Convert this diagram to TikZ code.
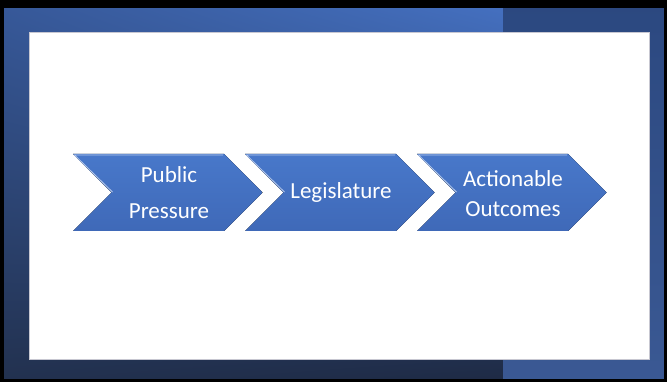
\documentclass[tikz,border=0pt]{standalone}
\usepackage{fontspec}
\setmainfont{Carlito}
\usetikzlibrary{shadings}
\definecolor{chevblue}{HTML}{4472C4}
\definecolor{chevtop}{HTML}{4878CA}
\definecolor{chevbot}{HTML}{3F69B8}
\definecolor{bevel}{HTML}{B4C8EC}
\definecolor{panelblue}{HTML}{30508E}
\definecolor{frameul}{RGB}{55,89,154}
\definecolor{frameur}{RGB}{69,113,194}
\definecolor{framell}{RGB}{34,49,79}
\definecolor{framelr}{RGB}{30,42,68}
\tikzset{
  chev/.style={top color=chevtop,bottom color=chevbot,draw=none},
  chevtext/.style={text=white,align=center,font=\fontsize{23}{30}\selectfont,inner sep=0pt}
}
\begin{document}
\begin{tikzpicture}[x=1pt,y=-1pt]
\useasboundingbox (0,0) rectangle (667,382);
% slide background
\shade[upper left=frameul,upper right=frameur,lower left=framell,lower right=framelr]
  (0,0) rectangle (503,382);
\shade[top color=panelblue!90!black,bottom color=panelblue!95!white] (503,0) rectangle (667,382);
\draw[black,line width=4pt] (2,4) rectangle (665.5,380.5);
\fill[black] (0,0) rectangle (667,8);
% white slide area
\fill[white] (29,32) rectangle (649,359);
\draw[blue!10!gray!40,line width=0.6pt] (29,32) rectangle (649,359);

% chevrons
\foreach \x in {73,245,417}{
  \fill[chev] (\x,154) -- ++(151,0) -- ++(38.5,38.5) -- ++(-38.5,38.5) -- ++(-151,0) -- ++(38.5,-38.5) -- cycle;
  \draw[bevel,line width=0.8pt] (\x+39.5,192) -- (\x+1.5,155) -- (\x+150,155);
}

\node[chevtext] (pub) at (169,193) {Public\\[6pt]Pressure};
\node[chevtext] (leg) at (341,192) {Legislature};
\node[chevtext] (act) at (513,194) {Actionable\\Outcomes};
\end{tikzpicture}
\end{document}
